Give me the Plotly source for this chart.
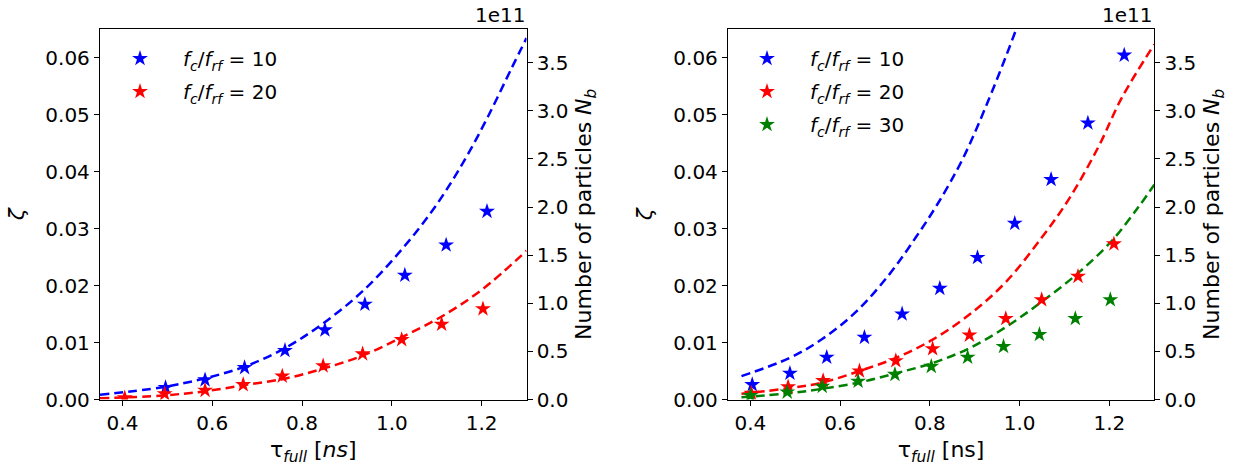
import plotly.graph_objects as go

# ---------------- data ----------------
# Left panel: simulated points (zeta)
L_tau_10 = [0.496, 0.584, 0.672, 0.762, 0.851, 0.940, 1.029, 1.121, 1.212]
L_zeta_10 = [0.0021, 0.00345, 0.0056, 0.0086, 0.0122, 0.0167, 0.0218, 0.0271, 0.0330]
L_tau_20 = [0.405, 0.494, 0.584, 0.669, 0.756, 0.847, 0.935, 1.022, 1.111, 1.203]
L_zeta_20 = [0.0003, 0.0010, 0.0016, 0.0026, 0.0041, 0.0059, 0.0080, 0.0105, 0.0132, 0.0159]

# Left panel: dashed curves (zeta units)
L_curve_tau_10 = [0.35, 0.489, 0.585, 0.675, 0.764, 0.846, 0.935, 1.024, 1.099, 1.162, 1.214, 1.266, 1.30]
L_curve_10 = [0.00082, 0.00216, 0.00374, 0.00585, 0.0091, 0.0133, 0.0190, 0.0265, 0.0341, 0.0420, 0.0496, 0.0580, 0.0634]
L_curve_tau_20 = [0.35, 0.489, 0.585, 0.675, 0.764, 0.846, 0.935, 1.024, 1.114, 1.203, 1.30]
L_curve_20 = [0.0002, 0.0007, 0.00146, 0.00257, 0.0037, 0.0054, 0.0077, 0.0110, 0.0147, 0.0194, 0.0261]

# Right panel: simulated points
R_tau_10 = [0.404, 0.488, 0.570, 0.654, 0.738, 0.822, 0.906, 0.989, 1.070, 1.152, 1.233]
R_zeta_10 = [0.0026, 0.0046, 0.0074, 0.0109, 0.0150, 0.0195, 0.0249, 0.0309, 0.0386, 0.0485, 0.0604]
R_tau_20 = [0.402, 0.484, 0.562, 0.643, 0.724, 0.806, 0.888, 0.969, 1.049, 1.130, 1.210]
R_zeta_20 = [0.0011, 0.0022, 0.0033, 0.0050, 0.0068, 0.0089, 0.0113, 0.0142, 0.0175, 0.0216, 0.0273]
R_tau_30 = [0.400, 0.482, 0.560, 0.640, 0.722, 0.803, 0.884, 0.964, 1.044, 1.124, 1.202]
R_zeta_30 = [0.0007, 0.0013, 0.0023, 0.0032, 0.0044, 0.0058, 0.0074, 0.0093, 0.0114, 0.0142, 0.0175]

# Right panel: dashed curves
R_curve_tau_10 = [0.38, 0.4876, 0.5616, 0.6356, 0.71, 0.769, 0.817, 0.873, 0.932, 0.991, 1.0]
R_curve_10 = [0.0041, 0.0073, 0.0107, 0.0154, 0.0220, 0.0285, 0.0343, 0.0422, 0.0528, 0.0647, 0.0668]
R_curve_tau_20 = [0.38, 0.4876, 0.5616, 0.643, 0.724, 0.806, 0.888, 0.969, 1.05, 1.11, 1.176, 1.228, 1.30]
R_curve_20 = [0.0010, 0.0020, 0.0030, 0.0050, 0.0073, 0.0105, 0.0149, 0.0206, 0.0285, 0.0352, 0.0444, 0.0530, 0.0623]
R_curve_tau_30 = [0.38, 0.4876, 0.5616, 0.643, 0.724, 0.806, 0.888, 0.969, 1.05, 1.132, 1.206, 1.265, 1.30]
R_curve_30 = [0.0004, 0.0011, 0.0019, 0.0030, 0.0046, 0.0064, 0.0090, 0.0127, 0.0172, 0.0223, 0.0279, 0.0338, 0.0377]

x_ticks = [0.4, 0.6, 0.8, 1.0, 1.2]
y_ticks = [0.0, 0.01, 0.02, 0.03, 0.04, 0.05, 0.06]
nb_ticks = [0.0, 0.5e11, 1.0e11, 1.5e11, 2.0e11, 2.5e11, 3.0e11, 3.5e11]
nb_labels = ["0.0", "0.5", "1.0", "1.5", "2.0", "2.5", "3.0", "3.5"]

FONT = "DejaVu Sans"
FS = 20
TFS = 22
BLUE, RED, GREEN = "#0000ff", "#ff0000", "#008000"


def lab(n):
    return "<i>f</i><sub><i>c</i></sub>/<i>f</i><sub><i>rf</i></sub> = %d" % n


fig = go.Figure()

dash = "9px,5px"


def curve(x, y, color, xa, ya):
    fig.add_trace(go.Scatter(x=x, y=y, mode="lines", xaxis=xa, yaxis=ya,
                             line=dict(color=color, width=2.5, dash=dash, shape="spline", smoothing=1.0),
                             showlegend=False, hoverinfo="skip"))


def pts(x, y, color, name, xa, ya, leg):
    fig.add_trace(go.Scatter(x=x, y=y, mode="markers", xaxis=xa, yaxis=ya, name=name,
                             legendgroup=name + leg,
                             marker=dict(symbol="star", size=12, color=color, line=dict(width=0)),
                             legend=leg))


# left panel
curve(L_curve_tau_10, L_curve_10, BLUE, "x", "y")
curve(L_curve_tau_20, L_curve_20, RED, "x", "y")
pts(L_tau_10, L_zeta_10, BLUE, lab(10), "x", "y", "legend")
pts(L_tau_20, L_zeta_20, RED, lab(20), "x", "y", "legend")
# right panel
curve(R_curve_tau_10, R_curve_10, BLUE, "x2", "y3")
curve(R_curve_tau_20, R_curve_20, RED, "x2", "y3")
curve(R_curve_tau_30, R_curve_30, GREEN, "x2", "y3")
pts(R_tau_10, R_zeta_10, BLUE, lab(10), "x2", "y3", "legend2")
pts(R_tau_20, R_zeta_20, RED, lab(20), "x2", "y3", "legend2")
pts(R_tau_30, R_zeta_30, GREEN, lab(30), "x2", "y3", "legend2")
# empty traces to hold the twin axes
fig.add_trace(go.Scatter(x=[], y=[], xaxis="x", yaxis="y2", showlegend=False))
fig.add_trace(go.Scatter(x=[], y=[], xaxis="x2", yaxis="y4", showlegend=False))

W, H = 1235, 466
ytop, ybot = 1 - 29 / H, 1 - 399.5 / H
LX = [100 / W, 526.5 / W]
RX = [728 / W, 1154.3 / W]

axcommon = dict(showline=True, linecolor="black", linewidth=1.3, ticks="outside", ticklen=5,
                tickwidth=1.3, tickcolor="black", showgrid=False, zeroline=False, automargin=False,
                tickfont=dict(family=FONT, size=FS, color="black"))

xcommon = dict(axcommon, range=[0.35, 1.3], tickvals=x_ticks, tickformat=".1f", mirror=True)
ycommon = dict(axcommon, range=[0, 0.065], tickvals=y_ticks, tickformat=".2f")
y2common = dict(axcommon, range=[0, 3.85e11], tickvals=nb_ticks, ticktext=nb_labels, side="right")

legcommon = dict(xanchor="left", yanchor="top", bgcolor="rgba(0,0,0,0)",
                 font=dict(family=FONT, size=FS, color="black"), itemwidth=76, tracegroupgap=4)

fig.update_layout(
    width=W, height=H, margin=dict(l=0, r=0, t=0, b=0, autoexpand=False),
    paper_bgcolor="white", plot_bgcolor="white",
    font=dict(family=FONT, size=FS, color="black"),
    xaxis=dict(xcommon, domain=LX, anchor="y",
               title=dict(text="τ<sub><i>full</i></sub> [<i>ns</i>]", standoff=8, font=dict(size=TFS))),
    yaxis=dict(ycommon, domain=[ybot, ytop], anchor="x",
               title=dict(text="<i>ζ</i>", standoff=14, font=dict(size=TFS))),
    yaxis2=dict(y2common, overlaying="y", anchor="x",
                title=dict(text="Number of particles <i>N</i><sub><i>b</i></sub>", standoff=8, font=dict(size=TFS))),
    xaxis2=dict(xcommon, domain=RX, anchor="y3",
                title=dict(text="τ<sub><i>full</i></sub> [ns]", standoff=8, font=dict(size=TFS))),
    yaxis3=dict(ycommon, domain=[ybot, ytop], anchor="x2",
                title=dict(text="<i>ζ</i>", standoff=14, font=dict(size=TFS))),
    yaxis4=dict(y2common, overlaying="y3", anchor="x2",
                title=dict(text="Number of particles <i>N</i><sub><i>b</i></sub>", standoff=8, font=dict(size=TFS))),
    legend=dict(legcommon, x=97 / W, y=1 - 39 / H),
    legend2=dict(legcommon, x=724 / W, y=1 - 39 / H),
    showlegend=True,
)

for xr in (LX, RX):
    fig.add_annotation(x=xr[1], y=ytop, xref="paper", yref="paper", text="1e11", showarrow=False,
                       xanchor="right", yanchor="bottom", yshift=0,
                       font=dict(family=FONT, size=FS, color="black"))

fig.write_html("out.html", config={"displayModeBar": False},
               post_script="document.body.style.margin='0';document.body.style.overflow='hidden';")
